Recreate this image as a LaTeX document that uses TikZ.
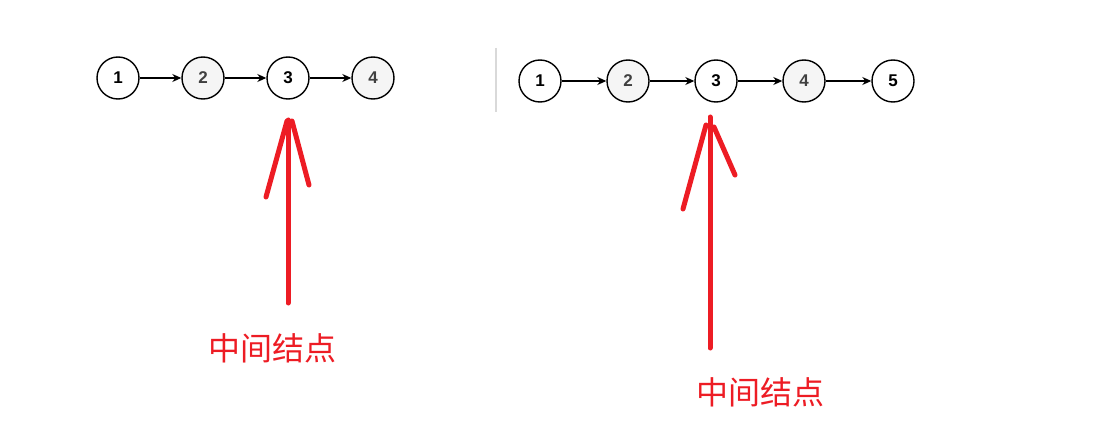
\documentclass[tikz,border=0pt]{standalone}
\usepackage{fontspec}
\setmainfont{Liberation Sans}
\newfontfamily\cjk{Noto Sans CJK SC}
\usetikzlibrary{arrows.meta,positioning}

\definecolor{markred}{HTML}{ED1C24}
\definecolor{nodegray}{HTML}{F5F5F5}

\begin{document}
\begin{tikzpicture}[
  x=0.5pt, y=-0.5pt,
  listnode/.style={circle, draw, line width=0.7pt, minimum size=21pt, inner sep=0pt,
    font=\fontsize{8.5}{9}\selectfont\bfseries, fill=white},
  graynode/.style={listnode, fill=nodegray, text=black!75},
  link/.style={-{Stealth[length=4.5pt,width=4pt]}, line width=0.55pt},
  markline/.style={draw=markred, line width=2.5pt, line cap=round},
  marktext/.style={text=markred, font=\cjk\fontsize{16}{18}\selectfont}
]
\useasboundingbox (0,0) rectangle (1104,444);

% Left list: 4 nodes
\node[listnode] (a1) at (118,78) {1};
\node[graynode] (a2) at (203,78) {2};
\node[listnode] (a3) at (288,78) {3};
\node[graynode] (a4) at (373,78) {4};

\draw[link] (a1) -- (a2);
\draw[link] (a2) -- (a3);
\draw[link] (a3) -- (a4);

% Separator
\draw[black!15, line width=0.8pt] (496,48) -- (496,112);

% Right list: 5 nodes
\node[listnode] (b1) at (540,81) {1};
\node[graynode] (b2) at (628,81) {2};
\node[listnode] (b3) at (716,81) {3};
\node[graynode] (b4) at (804,81) {4};
\node[listnode] (b5) at (893,81) {5};

\draw[link] (b1) -- (b2);
\draw[link] (b2) -- (b3);
\draw[link] (b3) -- (b4);
\draw[link] (b4) -- (b5);

% Hand-drawn markers (left)
\coordinate (ltip) at (288,120);
\coordinate (ltail) at (288,303);
\draw[markline] (ltail) -- (ltip);
\draw[markline] (266,197) -- (287,121);
\draw[markline] (309,185) -- (292,121);
\node[marktext] (lbl) at (272,348) {中间结点};

% Hand-drawn markers (right)
\coordinate (rtip) at (710,117);
\coordinate (rtail) at (710,348);
\draw[markline] (rtail) -- (rtip);
\draw[markline] (683,209) -- (706,125);
\draw[markline] (735,175) -- (714,127);
\node[marktext] (rlbl) at (760,392) {中间结点};

\end{tikzpicture}
\end{document}
